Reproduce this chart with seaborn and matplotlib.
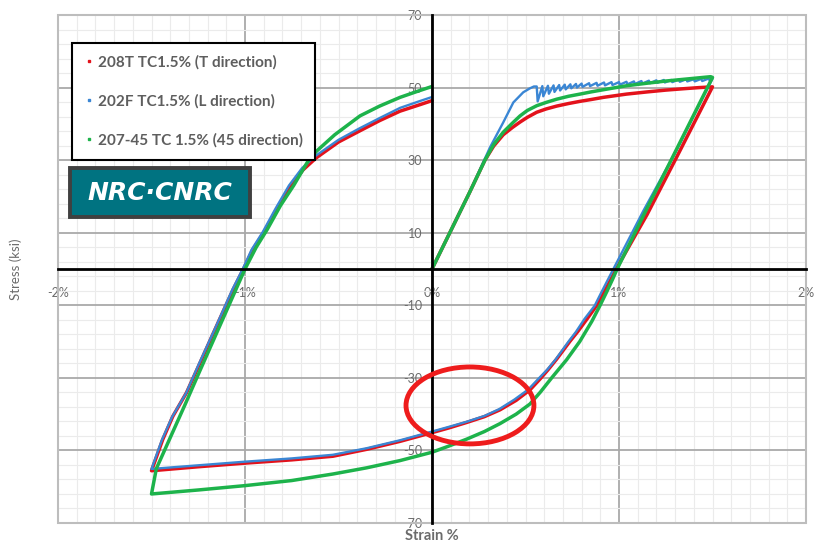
import numpy as np
import pandas as pd
import matplotlib
matplotlib.use("Agg")
import matplotlib.pyplot as plt
import seaborn as sns
from matplotlib.patches import Ellipse, Rectangle
from matplotlib.lines import Line2D
from matplotlib.ticker import FixedLocator

# ---------------- data ----------------
series_names = ["208T TC1.5% (T direction)",
                "202F TC1.5% (L direction)",
                "207-45 TC 1.5% (45 direction)"]
series_colors = ["#e3121b", "#3a86d4", "#1db34b"]

red_strain = [0.0, 0.1, 0.2, 0.283, 0.33, 0.381, 0.43, 0.471, 0.51, 0.56, 0.61, 0.667, 0.73, 0.791,
              0.85, 0.916, 1.04, 1.15, 1.25, 1.35, 1.43, 1.5,
              1.31, 1.15, 0.985, 0.955, 0.92, 0.88, 0.83, 0.78, 0.738, 0.667, 0.62, 0.578, 0.524,
              0.45, 0.364, 0.28, 0.185, 0.09, 0.0, -0.171, -0.35, -0.53, -0.75, -1.0, -1.25, -1.5,
              -1.44, -1.386, -1.312, -1.24, -1.151, -1.062, -1.008, -0.96, -0.9, -0.83, -0.76, -0.69,
              -0.62, -0.5, -0.385, -0.28, -0.171, -0.064, 0.0]
red_stress = [0.0, 10.5, 21.0, 30.0, 33.9, 37.0, 39.0, 40.5, 41.8, 43.2, 44.1, 44.9, 45.6, 46.2,
              46.7, 47.3, 48.2, 48.8, 49.3, 49.7, 50.0, 50.2,
              31.0, 15.0, 0.0, -3.0, -6.4, -10.1, -13.7, -17.2, -19.9, -24.8, -27.8, -30.3, -33.3,
              -36.2, -38.8, -40.7, -42.3, -43.8, -45.1, -47.5, -49.7, -51.6, -52.6, -53.5, -54.5, -55.6,
              -47.0, -40.6, -34.0, -25.8, -15.6, -5.5, 0.0, 5.2, 10.0, 16.5, 22.6, 27.3,
              30.6, 35.0, 38.1, 40.9, 43.5, 45.3, 46.4]

blue_strain = [0.0, 0.1, 0.2, 0.31, 0.381, 0.435, 0.488, 0.524, 0.545, 0.56,
               0.565, 0.59, 0.595, 0.62, 0.625, 0.65, 0.655, 0.68, 0.685, 0.71, 0.715,
               0.74, 0.745, 0.77, 0.775, 0.80, 0.805, 0.84, 0.845, 0.88, 0.885, 0.92, 0.925,
               0.96, 0.965, 1.00, 1.005, 1.04, 1.045, 1.08, 1.085, 1.12, 1.125, 1.16, 1.165,
               1.20, 1.205, 1.24, 1.245, 1.28, 1.285, 1.32, 1.325, 1.36, 1.365, 1.40, 1.405,
               1.44, 1.445, 1.48, 1.485, 1.5,
               1.3, 1.13, 0.97, 0.94, 0.905, 0.87, 0.815, 0.77, 0.73, 0.66, 0.615, 0.57, 0.515,
               0.44, 0.36, 0.28, 0.185, 0.09, 0.0, -0.171, -0.35, -0.53, -0.75, -1.0, -1.25, -1.5,
               -1.445, -1.39, -1.315, -1.245, -1.155, -1.067, -1.012, -0.965, -0.905, -0.835,
               -0.765, -0.695, -0.625, -0.5, -0.39, -0.28, -0.171, -0.064, 0.0]
blue_stress = [0.0, 10.5, 21.0, 33.5, 40.4, 45.9, 48.7, 49.8, 50.3, 50.3,
               46.2, 50.4, 47.6, 50.5, 48.3, 50.6, 48.8, 50.7, 49.2, 50.8, 49.5,
               50.9, 49.8, 51.0, 50.0, 51.1, 50.2, 51.2, 50.4, 51.3, 50.5, 51.4, 50.6,
               51.5, 50.7, 51.5, 50.8, 51.6, 50.9, 51.7, 51.0, 51.8, 51.1, 51.9, 51.2,
               52.0, 51.3, 52.1, 51.4, 52.1, 51.5, 52.2, 51.6, 52.3, 51.7, 52.3, 51.7,
               52.4, 51.8, 52.5, 51.9, 52.5,
               32.0, 16.0, 0.0, -3.0, -6.5, -10.1, -13.8, -17.3, -20.0, -25.0, -27.8, -30.2, -33.2,
               -36.0, -38.6, -40.5, -42.1, -43.5, -44.8, -47.2, -49.4, -51.2, -52.2, -53.1, -54.1, -55.1,
               -47.2, -40.8, -34.2, -26.0, -15.8, -5.6, 0.0, 5.3, 10.2, 16.8, 23.0, 27.8,
               31.1, 35.6, 38.7, 41.6, 44.4, 46.3, 47.4]

green_strain = [0.0, 0.1, 0.2, 0.283, 0.33, 0.381, 0.43, 0.471, 0.51, 0.56, 0.61, 0.667, 0.73, 0.791,
                0.85, 0.916, 1.04, 1.15, 1.25, 1.35, 1.43, 1.49, 1.5,
                1.3, 1.14, 0.99, 0.965, 0.935, 0.90, 0.855, 0.79, 0.72, 0.64, 0.58, 0.524, 0.45, 0.364,
                0.28, 0.185, 0.09, 0.0, -0.171, -0.35, -0.53, -0.75, -1.0, -1.25, -1.5,
                -1.474, -1.40, -1.32, -1.24, -1.16, -1.08, -1.0, -0.94, -0.88, -0.81, -0.74, -0.66,
                -0.617, -0.52, -0.385, -0.28, -0.171, -0.07, 0.0]
green_stress = [0.0, 10.5, 21.0, 30.0, 34.3, 37.7, 40.2, 42.2, 43.7, 45.0, 45.9, 46.8, 47.6, 48.2,
                48.8, 49.4, 50.5, 51.2, 51.8, 52.3, 52.7, 53.0, 52.8,
                32.2, 15.7, 0.0, -2.9, -6.2, -9.9, -14.4, -20.0, -25.0, -30.0, -33.9, -37.2, -40.0, -42.6,
                -44.8, -46.9, -48.8, -50.5, -52.8, -54.8, -56.5, -58.3, -59.7, -60.9, -62.0,
                -55.0, -46.5, -37.3, -27.9, -18.6, -9.3, 0.0, 6.0, 11.0, 17.5, 23.0, 30.0,
                32.5, 37.0, 42.2, 44.9, 47.3, 49.1, 50.3]

x_ticks = [-2, -1, 0, 1, 2]
x_tick_labels = ["-2%", "-1%", "0%", "1%", "2%"]
y_ticks = [-70, -50, -30, -10, 10, 30, 50, 70]
y_tick_labels = ["-70", "-50", "-30", "-10", "10", "30", "50", "70"]

ellipse_center = (0.203, -37.6)
ellipse_size = (0.684, 21.2)

# ---------------- figure ----------------
sns.set_style("white")
plt.rcParams["font.family"] = ["Lato", "DejaVu Sans"]

fig = plt.figure(figsize=(8.15, 5.47), dpi=100)
ax = fig.add_axes([58 / 815, 24 / 547, 748 / 815, 508 / 547])

frames = []
for name, xs, ys in zip(series_names,
                        [red_strain, blue_strain, green_strain],
                        [red_stress, blue_stress, green_stress]):
    frames.append(pd.DataFrame({"strain": xs, "stress": ys, "series": name}))

widths = [2.5, 1.7, 2.5]
for df, color, lw in zip(frames, series_colors, widths):
    sns.lineplot(data=df, x="strain", y="stress", sort=False, estimator=None,
                 color=color, linewidth=lw, ax=ax, legend=False,
                 solid_joinstyle="round", solid_capstyle="round", zorder=3)

ax.set_xlim(-2, 2)
ax.set_ylim(-70, 70)

# spines through origin
for s in ["top", "right"]:
    ax.spines[s].set_visible(False)
ax.spines["left"].set_position(("data", 0))
ax.spines["bottom"].set_position(("data", 0))
for s in ["left", "bottom"]:
    ax.spines[s].set_color("black")
    ax.spines[s].set_linewidth(2.0)
    ax.spines[s].set_zorder(4)

ax.xaxis.set_major_locator(FixedLocator(x_ticks))
ax.set_xticklabels(x_tick_labels)
ax.xaxis.set_minor_locator(FixedLocator(np.arange(-2, 2.001, 0.1)))
ax.yaxis.set_major_locator(FixedLocator(y_ticks))
ax.set_yticklabels(y_tick_labels)
ax.yaxis.set_minor_locator(FixedLocator(np.arange(-70, 71, 4)))

ax.tick_params(axis="x", which="major", direction="out", length=4, width=1.2,
               color="black", pad=9, labelsize=9, labelcolor="#6b6b6b")
ax.tick_params(axis="x", which="minor", direction="out", length=3, width=1.0, color="black")
ax.tick_params(axis="y", which="major", direction="out", length=6, width=1.2,
               color="#555555", pad=1, labelsize=9, labelcolor="#6b6b6b")
ax.tick_params(axis="y", which="minor", direction="out", length=3, width=1.0, color="black")

ax.grid(which="minor", color="#ebebeb", linewidth=0.8)
ax.grid(which="major", color="#a9a9a9", linewidth=1.3)
ax.set_axisbelow(True)

# border of plot area
ax.add_patch(Rectangle((0, 0), 1, 1, transform=ax.transAxes, fill=False,
                       edgecolor="#bdbdbd", linewidth=1.5, zorder=1, clip_on=False))

ax.set_xlabel("Strain %", fontsize=10.5, fontweight="bold", color="#6b6b6b")
ax.xaxis.set_label_coords(0.5, -0.012)
ax.set_ylabel("Stress (ksi)", fontsize=9.5, color="#6b6b6b")
ax.yaxis.set_label_coords(-0.048, 0.5)

# annotation ellipse
ax.add_patch(Ellipse(ellipse_center, ellipse_size[0], ellipse_size[1], fill=False,
                     edgecolor="#ee1c1c", linewidth=3.5, zorder=5))

# legend
handles = [Line2D([], [], linestyle="none", marker="s", markersize=2.0, color=c)
           for c in series_colors]
leg = ax.legend(handles, series_names, loc="upper left",
                bbox_to_anchor=(72 / 815, 1 - 43 / 547), bbox_transform=fig.transFigure,
                borderaxespad=0, fancybox=False, framealpha=1, edgecolor="black",
                prop={"size": 11, "weight": "bold"}, labelspacing=1.6,
                borderpad=0.8, handlelength=0.65, handletextpad=0.25, labelcolor="#5e5e5e")
leg.get_frame().set_linewidth(1.5)
leg.set_zorder(6)

# logo
fig.patches.append(Rectangle((70 / 815, 1 - 217 / 547), 180 / 815, 49 / 547,
                             transform=fig.transFigure, facecolor="#007381",
                             edgecolor="#404040", linewidth=2.8, zorder=7))
fig.text(160 / 815, 1 - 193 / 547, "NRC\u00b7CNRC", color="white", fontsize=18,
         fontweight="bold", fontstyle="italic", ha="center", va="center", zorder=8,
         family=["DejaVu Sans"])

fig.savefig("out.png", dpi=100)
